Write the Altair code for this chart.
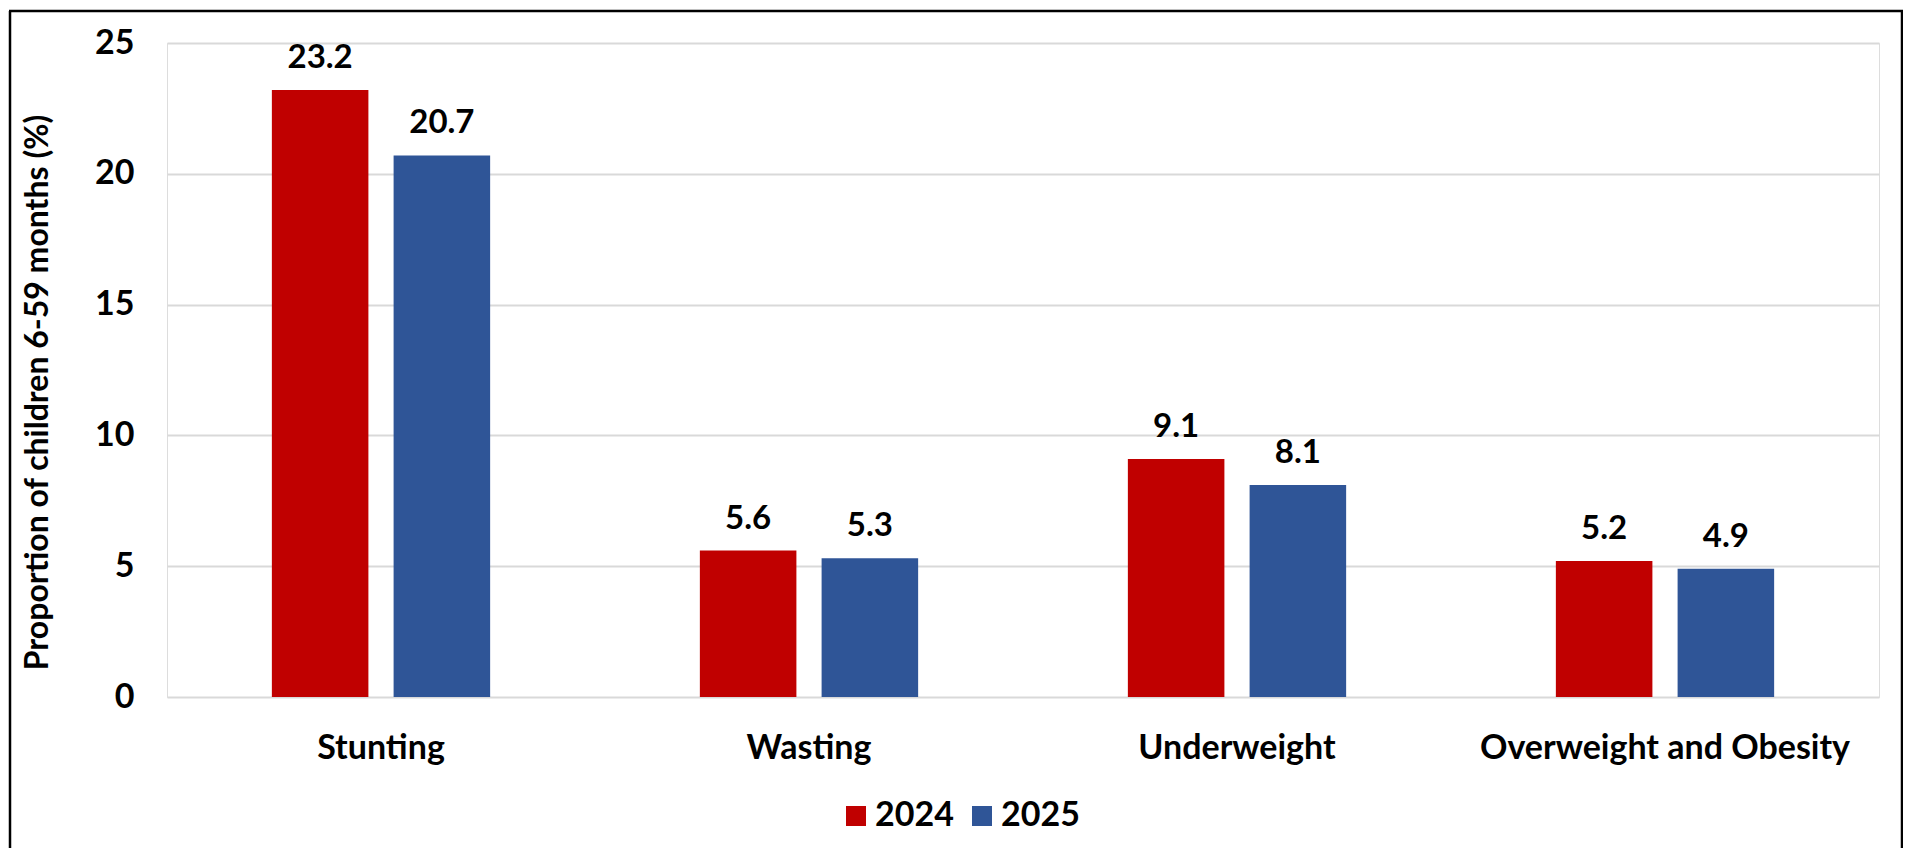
import altair as alt
import pandas as pd

categories = ["Stunting", "Wasting", "Underweight", "Overweight and Obesity"]
years = ["2024", "2025"]
values_2024 = [23.2, 5.6, 9.1, 5.2]
values_2025 = [20.7, 5.3, 8.1, 4.9]
colors = ["#C00000", "#2F5597"]
y_ticks = [0, 5, 10, 15, 20, 25]

rows = []
for c, a, b in zip(categories, values_2024, values_2025):
    rows.append({"category": c, "year": "2024", "value": a})
    rows.append({"category": c, "year": "2025", "value": b})
df = pd.DataFrame(rows)

FONT = "Lato"
W, H = 1712, 654

x = alt.X(
    "category:N", sort=categories, title=None,
    scale=alt.Scale(paddingInner=0.49, paddingOuter=0.245),
    axis=alt.Axis(labelAngle=0, labelFont=FONT, labelFontSize=34, labelFontWeight="bold",
                  labelColor="black", labelPadding=34, labelLimit=0, ticks=False,
                  domain=False, grid=False),
)
xo = alt.XOffset("year:N", sort=years, scale=alt.Scale(paddingInner=0.207, paddingOuter=0))
y = alt.Y(
    "value:Q", scale=alt.Scale(domain=[0, 25], nice=False),
    title="Proportion of children 6-59 months (%)",
    axis=alt.Axis(values=y_ticks, labelFont=FONT, labelFontSize=34, labelFontWeight="bold",
                  labelColor="black", labelPadding=33, ticks=False, domain=False,
                  grid=True, gridColor="#D9D9D9", gridWidth=2,
                  titleFont=FONT, titleFontSize=32, titleFontWeight="bold", titleColor="black",
                  titleAngle=270, titleX=-130, titleY=349, titleAlign="center",
                  titleBaseline="middle"),
)
color = alt.Color(
    "year:N", scale=alt.Scale(domain=years, range=colors),
    legend=alt.Legend(title=None, orient="none", legendX=672, legendY=756, direction="horizontal",
                      symbolType="square", symbolSize=400, symbolStrokeWidth=0, symbolOpacity=1,
                      labelFont=FONT, labelFontSize=34, labelFontWeight="bold", labelColor="black",
                      labelOffset=2, columnPadding=11),
)

bars = alt.Chart(df).mark_bar().encode(x=x, xOffset=xo, y=y, color=color)
labels = alt.Chart(df).mark_text(
    font=FONT, fontSize=33, fontWeight="bold", color="black", baseline="alphabetic", dy=-22
).encode(x=x, xOffset=xo, y=y, text=alt.Text("value:Q", format=".1f"))

one = pd.DataFrame({"f": [0]})
rule_style = dict(color="black", strokeWidth=2.5)
left_edge = alt.Chart(one).mark_rule(**rule_style).encode(
    x=alt.value(-157), y=alt.value(-32), y2=alt.value(H + 400))
right_edge = alt.Chart(one).mark_rule(**rule_style).encode(
    x=alt.value(W + 23), y=alt.value(-32), y2=alt.value(H + 400))
top_edge = alt.Chart(one).mark_rule(**rule_style).encode(
    x=alt.value(-158), x2=alt.value(W + 24), y=alt.value(-32))

chart = alt.layer(left_edge, right_edge, top_edge, bars, labels).properties(
    width=W, height=H,
    autosize=alt.AutoSizeParams(type="none"),
    padding={"left": 159, "top": 35, "right": 24, "bottom": 151},
).configure_view(stroke=None).configure(background="white")

chart.save("out.html", embed_options={"renderer": "svg", "actions": False})
